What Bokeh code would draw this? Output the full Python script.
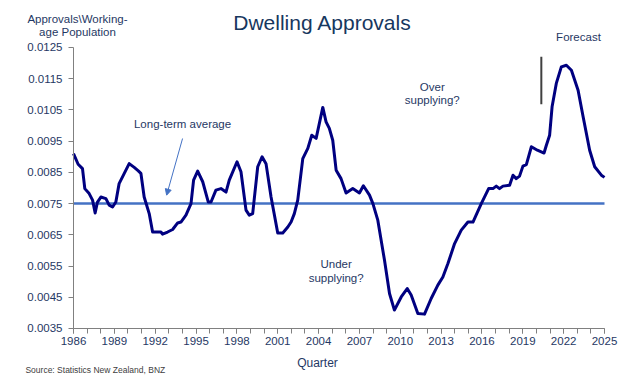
from bokeh.plotting import figure
from bokeh.models import Range1d, FixedTicker, PrintfTickFormatter, Label, Arrow, NormalHead
from bokeh.embed import file_html
from bokeh.resources import INLINE

# Quarter (decimal year) and approvals per working-age population
years = [1986.0, 1986.34, 1986.66, 1986.83, 1987.15, 1987.40, 1987.59, 1987.76, 1988.01, 1988.38,
         1988.62, 1988.87, 1989.11, 1989.35, 1989.72, 1990.09, 1990.46, 1990.76, 1990.95, 1991.19,
         1991.56, 1991.81, 1992.42, 1992.54, 1992.91, 1993.28, 1993.65, 1993.89, 1994.26, 1994.63,
         1994.82, 1995.12, 1995.49, 1995.90, 1996.10, 1996.46, 1996.83, 1997.20, 1997.44, 1998.01,
         1998.30, 1998.67, 1998.91, 1999.16, 1999.53, 1999.85, 2000.14, 2000.51, 2001.00, 2001.37,
         2001.74, 2001.98, 2002.22, 2002.47, 2002.84, 2003.21, 2003.50, 2003.82, 2004.31, 2004.55,
         2004.79, 2005.04, 2005.29, 2005.65, 2006.02, 2006.51, 2007.00, 2007.29, 2007.74, 2007.99,
         2008.35, 2008.84, 2009.21, 2009.57, 2010.07, 2010.51, 2010.80, 2011.29, 2011.78, 2012.27,
         2012.76, 2013.13, 2013.50, 2013.99, 2014.48, 2014.97, 2015.34, 2015.95, 2016.49, 2016.81,
         2017.05, 2017.29, 2017.54, 2018.03, 2018.28, 2018.52, 2018.76, 2019.01, 2019.26, 2019.63,
         2020.07, 2020.56, 2020.73, 2020.97, 2021.15, 2021.46, 2021.83, 2022.20, 2022.57, 2023.06,
         2023.43, 2023.91, 2024.28, 2024.77, 2025.0]
approvals = [0.00910, 0.00876, 0.00862, 0.00798, 0.00782, 0.00761, 0.00720, 0.00755, 0.00771, 0.00766,
             0.00745, 0.00739, 0.00755, 0.00814, 0.00846, 0.00878, 0.00866, 0.00855, 0.00847, 0.00771,
             0.00718, 0.00659, 0.00659, 0.00652, 0.00659, 0.00667, 0.00688, 0.00691, 0.00713, 0.00750,
             0.00825, 0.00854, 0.00820, 0.00755, 0.00755, 0.00793, 0.00798, 0.00787, 0.00825, 0.00884,
             0.00852, 0.00729, 0.00713, 0.00718, 0.00868, 0.00900, 0.00878, 0.00771, 0.00656, 0.00656,
             0.00675, 0.00691, 0.00718, 0.00761, 0.00894, 0.00927, 0.00969, 0.00959, 0.01058, 0.01012,
             0.00991, 0.00953, 0.00857, 0.00830, 0.00784, 0.00798, 0.00784, 0.00807, 0.00777, 0.00750,
             0.00697, 0.00569, 0.00462, 0.00409, 0.00451, 0.00478, 0.00457, 0.00398, 0.00396, 0.00446,
             0.00489, 0.00515, 0.00558, 0.00622, 0.00665, 0.00691, 0.00691, 0.00750, 0.00798, 0.00798,
             0.00806, 0.00798, 0.00806, 0.00809, 0.00841, 0.00830, 0.00838, 0.00870, 0.00875, 0.00932,
             0.00921, 0.00912, 0.00937, 0.00969, 0.01060, 0.01135, 0.01188, 0.01193, 0.01177, 0.01113,
             0.01028, 0.00921, 0.00868, 0.00841, 0.00834]
long_term_average = 0.0075
forecast_start = 2020.36
y_ticks = [0.0035, 0.0045, 0.0055, 0.0065, 0.0075, 0.0085, 0.0095, 0.0105, 0.0115, 0.0125]
x_label_years = list(range(1986, 2026, 3))
x_minor_years = list(range(1986, 2026))
x_bounds = (1986, 2025)
y_bounds = (0.0035, 0.0125)

TXT = "#1F3864"
FONT = "Liberation Sans"
W, H = 637, 384

# The frame covers the whole canvas; axes are pinned at the data bounds so that
# texts outside the data area are not clipped.
p = figure(width=W, height=H, output_backend="svg", toolbar_location=None,
           x_range=Range1d(1980.638, 2027.424), y_range=Range1d(0.001706, 0.014005),
           min_border=0)
p.outline_line_color = None
p.grid.visible = False
p.background_fill_color = "white"
p.border_fill_color = "white"

for ax in (p.xaxis[0], p.yaxis[0]):
    ax.axis_line_color = "#808080"
    ax.axis_line_width = 1
    ax.major_tick_line_color = "#808080"
    ax.minor_tick_line_color = "#808080"
    ax.major_tick_in = 0
    ax.major_tick_out = 5
    ax.minor_tick_in = 0
    ax.minor_tick_out = 5
    ax.major_label_text_font = FONT
    ax.major_label_text_font_size = "11.5px"
    ax.major_label_text_color = TXT

p.yaxis.ticker = FixedTicker(ticks=y_ticks)
p.yaxis.formatter = PrintfTickFormatter(format="%.4f")
p.yaxis.major_label_standoff = 6
p.yaxis.bounds = y_bounds
p.yaxis.fixed_location = x_bounds[0]
p.xaxis.ticker = FixedTicker(ticks=x_label_years, minor_ticks=x_minor_years)
p.xaxis.major_label_standoff = 4
p.xaxis.bounds = x_bounds
p.xaxis.fixed_location = y_bounds[0]

# long-term average
p.line(list(x_bounds), [long_term_average, long_term_average], line_color="#4472C4", line_width=2.5)
# series
p.line(years, approvals, line_color="#000080", line_width=3, line_join="round")
# forecast marker
p.line([forecast_start, forecast_start], [0.01068, 0.0122], line_color="#404040", line_width=2)

p.add_layout(Arrow(end=NormalHead(size=6, fill_color="#4472C4", line_color="#4472C4"),
                   x_start=1994.01, y_start=0.009585, x_end=1992.84, y_end=0.00777,
                   line_color="#4472C4", line_width=1))

def lab(x, y, text, size="11.5px", color=TXT, align="center"):
    p.add_layout(Label(x=x, y=y, text=text, text_font=FONT, text_font_size=size,
                       text_color=color, text_align=align, text_baseline="middle"))

lab(2004.29, 0.01330, "Dwelling Approvals", size="21px", color="#17375E")
lab(1986.29, 0.013428, "Approvals\\Working-")
lab(1986.29, 0.012996, "age Population")
lab(1994.01, 0.010043, "Long-term average")
lab(2012.35, 0.011238, "Over")
lab(2012.35, 0.010812, "supplying?")
lab(2005.29, 0.005581, "Under")
lab(2005.29, 0.005133, "supplying?")
lab(2023.09, 0.012820, "Forecast")
lab(2003.92, 0.002379, "Quarter", size="12px")
lab(1982.47, 0.002186, "Source:  Statistics New Zealand,  BNZ", size="8.5px", color="#404040", align="left")

open("out.html", "w").write(file_html(p, INLINE))
